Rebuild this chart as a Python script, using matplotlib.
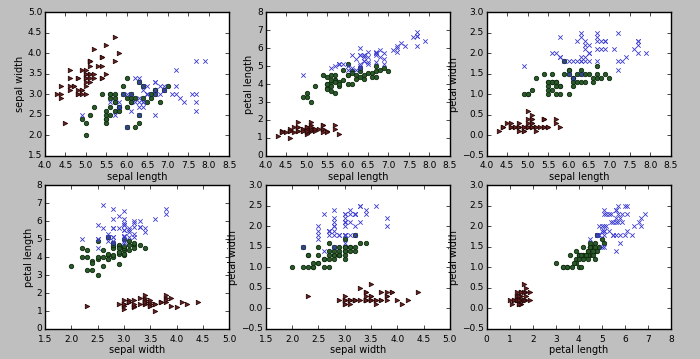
import matplotlib
matplotlib.use("Agg")
import matplotlib.pyplot as plt
import numpy as np

plt.style.use("classic")

# Iris data: sepal length, sepal width, petal length, petal width
sepal_length = [
    5.1, 4.9, 4.7, 4.6, 5.0, 5.4, 4.6, 5.0, 4.4, 4.9, 5.4, 4.8, 4.8, 4.3, 5.8, 5.7, 5.4, 5.1, 5.7, 5.1,
    5.4, 5.1, 4.6, 5.1, 4.8, 5.0, 5.0, 5.2, 5.2, 4.7, 4.8, 5.4, 5.2, 5.5, 4.9, 5.0, 5.5, 4.9, 4.4, 5.1,
    5.0, 4.5, 4.4, 5.0, 5.1, 4.8, 5.1, 4.6, 5.3, 5.0,
    7.0, 6.4, 6.9, 5.5, 6.5, 5.7, 6.3, 4.9, 6.6, 5.2, 5.0, 5.9, 6.0, 6.1, 5.6, 6.7, 5.6, 5.8, 6.2, 5.6,
    5.9, 6.1, 6.3, 6.1, 6.4, 6.6, 6.8, 6.7, 6.0, 5.7, 5.5, 5.5, 5.8, 6.0, 5.4, 6.0, 6.7, 6.3, 5.6, 5.5,
    5.5, 6.1, 5.8, 5.0, 5.6, 5.7, 5.7, 6.2, 5.1, 5.7,
    6.3, 5.8, 7.1, 6.3, 6.5, 7.6, 4.9, 7.3, 6.7, 7.2, 6.5, 6.4, 6.8, 5.7, 5.8, 6.4, 6.5, 7.7, 7.7, 6.0,
    6.9, 5.6, 7.7, 6.3, 6.7, 7.2, 6.2, 6.1, 6.4, 7.2, 7.4, 7.9, 6.4, 6.3, 6.1, 7.7, 6.3, 6.4, 6.0, 6.9,
    6.7, 6.9, 5.8, 6.8, 6.7, 6.7, 6.3, 6.5, 6.2, 5.9,
]
sepal_width = [
    3.5, 3.0, 3.2, 3.1, 3.6, 3.9, 3.4, 3.4, 2.9, 3.1, 3.7, 3.4, 3.0, 3.0, 4.0, 4.4, 3.9, 3.5, 3.8, 3.8,
    3.4, 3.7, 3.6, 3.3, 3.4, 3.0, 3.4, 3.5, 3.4, 3.2, 3.1, 3.4, 4.1, 4.2, 3.1, 3.2, 3.5, 3.6, 3.0, 3.4,
    3.5, 2.3, 3.2, 3.5, 3.8, 3.0, 3.8, 3.2, 3.7, 3.3,
    3.2, 3.2, 3.1, 2.3, 2.8, 2.8, 3.3, 2.4, 2.9, 2.7, 2.0, 3.0, 2.2, 2.9, 2.9, 3.1, 3.0, 2.7, 2.2, 2.5,
    3.2, 2.8, 2.5, 2.8, 2.9, 3.0, 2.8, 3.0, 2.9, 2.6, 2.4, 2.4, 2.7, 2.7, 3.0, 3.4, 3.1, 2.3, 3.0, 2.5,
    2.6, 3.0, 2.6, 2.3, 2.7, 3.0, 2.9, 2.9, 2.5, 2.8,
    3.3, 2.7, 3.0, 2.9, 3.0, 3.0, 2.5, 2.9, 2.5, 3.6, 3.2, 2.7, 3.0, 2.5, 2.8, 3.2, 3.0, 3.8, 2.6, 2.2,
    3.2, 2.8, 2.8, 2.7, 3.3, 3.2, 2.8, 3.0, 2.8, 3.0, 2.8, 3.8, 2.8, 2.8, 2.6, 3.0, 3.4, 3.1, 3.0, 3.1,
    3.1, 3.1, 2.7, 3.2, 3.3, 3.0, 2.5, 3.0, 3.4, 3.0,
]
petal_length = [
    1.4, 1.4, 1.3, 1.5, 1.4, 1.7, 1.4, 1.5, 1.4, 1.5, 1.5, 1.6, 1.4, 1.1, 1.2, 1.5, 1.3, 1.4, 1.7, 1.5,
    1.7, 1.5, 1.0, 1.7, 1.9, 1.6, 1.6, 1.5, 1.4, 1.6, 1.6, 1.5, 1.5, 1.4, 1.5, 1.2, 1.3, 1.4, 1.3, 1.5,
    1.3, 1.3, 1.3, 1.6, 1.9, 1.4, 1.6, 1.4, 1.5, 1.4,
    4.7, 4.5, 4.9, 4.0, 4.6, 4.5, 4.7, 3.3, 4.6, 3.9, 3.5, 4.2, 4.0, 4.7, 3.6, 4.4, 4.5, 4.1, 4.5, 3.9,
    4.8, 4.0, 4.9, 4.7, 4.3, 4.4, 4.8, 5.0, 4.5, 3.5, 3.8, 3.7, 3.9, 5.1, 4.5, 4.5, 4.7, 4.4, 4.1, 4.0,
    4.4, 4.6, 4.0, 3.3, 4.2, 4.2, 4.2, 4.3, 3.0, 4.1,
    6.0, 5.1, 5.9, 5.6, 5.8, 6.6, 4.5, 6.3, 5.8, 6.1, 5.1, 5.3, 5.5, 5.0, 5.1, 5.3, 5.5, 6.7, 6.9, 5.0,
    5.7, 4.9, 6.7, 4.9, 5.7, 6.0, 4.8, 4.9, 5.6, 5.8, 6.1, 6.4, 5.6, 5.1, 5.6, 6.1, 5.6, 5.5, 4.8, 5.4,
    5.6, 5.1, 5.1, 5.9, 5.7, 5.2, 5.0, 5.2, 5.4, 5.1,
]
petal_width = [
    0.2, 0.2, 0.2, 0.2, 0.2, 0.4, 0.3, 0.2, 0.2, 0.1, 0.2, 0.2, 0.1, 0.1, 0.2, 0.4, 0.4, 0.3, 0.3, 0.3,
    0.2, 0.4, 0.2, 0.5, 0.2, 0.2, 0.4, 0.2, 0.2, 0.2, 0.2, 0.4, 0.1, 0.2, 0.2, 0.2, 0.2, 0.1, 0.2, 0.2,
    0.3, 0.3, 0.2, 0.6, 0.4, 0.3, 0.2, 0.2, 0.2, 0.2,
    1.4, 1.5, 1.5, 1.3, 1.5, 1.3, 1.6, 1.0, 1.3, 1.4, 1.0, 1.5, 1.0, 1.4, 1.3, 1.4, 1.5, 1.0, 1.5, 1.1,
    1.8, 1.3, 1.5, 1.2, 1.3, 1.4, 1.4, 1.7, 1.5, 1.0, 1.1, 1.0, 1.2, 1.6, 1.5, 1.6, 1.5, 1.3, 1.3, 1.3,
    1.2, 1.4, 1.2, 1.0, 1.3, 1.2, 1.3, 1.3, 1.1, 1.3,
    2.5, 1.9, 2.1, 1.8, 2.2, 2.1, 1.7, 1.8, 1.8, 2.5, 2.0, 1.9, 2.1, 2.0, 2.4, 2.3, 1.8, 2.2, 2.3, 1.5,
    2.3, 2.0, 2.0, 1.8, 2.1, 1.8, 1.8, 1.8, 2.1, 1.6, 1.9, 2.0, 2.2, 1.5, 1.4, 2.3, 2.4, 1.8, 1.8, 2.1,
    2.4, 2.3, 1.9, 2.3, 2.5, 2.3, 1.9, 2.0, 2.3, 1.8,
]
target = [0] * 50 + [1] * 50 + [2] * 50

feature_names = ["sepal length", "sepal width", "petal length", "petal width"]
features = np.array([sepal_length, sepal_width, petal_length, petal_width]).T
target = np.array(target)

pairs = [(0, 1), (0, 2), (0, 3), (1, 2), (1, 3), (2, 3)]
limits = {0: (4.0, 8.5), 1: (1.5, 5.0), 2: (0, 8), 3: (-0.5, 3.0)}
xlim_override = {(1, 2): (1.5, 5.0), (1, 3): (1.5, 5.0), (2, 3): (0, 8)}

styles = [(">", "#6b1f1f", "#2a0a0a"), ("o", "#2a5a2a", "#0f2a0f"), ("x", "#3a3ad0", "#3a3ad0")]

fig = plt.figure(figsize=(7.0, 3.59), dpi=100, facecolor="#bfbfbf")

lefts = [0.0643, 0.3796, 0.6953]
bottoms = [0.566, 0.0836]
w, h = 0.263, 0.40

for i, (p0, p1) in enumerate(pairs):
    ax = fig.add_axes([lefts[i % 3], bottoms[i // 3], w, h])
    for t, (marker, face, edge) in enumerate(styles):
        sel = target == t
        ax.scatter(features[sel, p0], features[sel, p1], marker=marker, c=face,
                   s=10, edgecolors=edge, linewidths=0.6)
    ax.set_xlim(xlim_override.get((p0, p1), limits[p0]))
    ax.set_ylim(limits[p1])
    ax.set_xlabel(feature_names[p0], fontsize=7, labelpad=1)
    ax.set_ylabel(feature_names[p1], fontsize=7, labelpad=2)
    ax.tick_params(labelsize=6.5, length=3)
    ax.tick_params(axis="x", pad=4)
    ax.tick_params(axis="y", pad=2)

fig.savefig("out.png", dpi=100, facecolor=fig.get_facecolor())
